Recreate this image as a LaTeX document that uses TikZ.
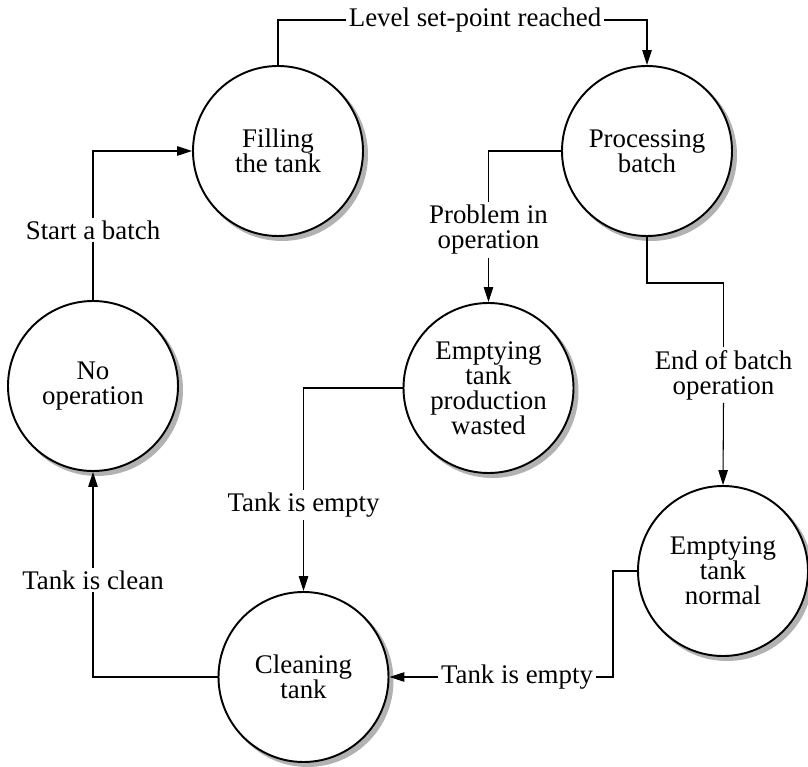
\documentclass[tikz,border=0pt]{standalone}
\usepackage{fontspec}
\setmainfont{Liberation Serif}
\usetikzlibrary{arrows.meta,backgrounds}

\begin{document}
\begin{tikzpicture}[
    state/.style={circle, draw, line width=1.1pt, fill=white, minimum size=3.4cm,
      inner sep=0pt, align=center, font=\fontsize{15.3}{14.2}\selectfont},
    shadowc/.style={fill=black!30},
    lbl/.style={inner sep=1.5pt, align=center, font=\fontsize{15.3}{14.2}\selectfont},
    conn/.style={line width=0.6pt},
    arr/.style={conn, -{Triangle[length=0.3cm, width=0.19cm]}}]
  \useasboundingbox (0cm,0cm) rectangle (16.16cm,15.32cm);

  % states
  \node[state] (fill)   at (5.56cm,12.3cm)  {Filling\\the tank};
  \node[state] (proc)   at (12.94cm,12.3cm) {Processing\\batch};
  \node[state] (noop)   at (1.86cm,7.6cm)   {No\\operation};
  \node[state] (waste)  at (9.77cm,7.56cm)  {Emptying\\tank\\production\\wasted};
  \node[state] (normal) at (14.46cm,3.9cm)  {Emptying\\tank\\normal};
  \node[state] (clean)  at (6.07cm,1.78cm)  {Cleaning\\tank};

  % shadows
  \begin{scope}[on background layer]
    \foreach \s in {fill,proc,noop,waste,normal,clean}
      \fill[shadowc] ([xshift=0.08cm,yshift=-0.08cm]\s.center) circle (1.72cm);
  \end{scope}

  % labels
  \node[lbl] (level)  at (9.5cm,14.92cm)  {Level set-point reached};
  \node[lbl] (start)  at (1.86cm,10.72cm) {Start a batch};
  \node[lbl] (prob)   at (9.77cm,10.72cm) {Problem in\\operation};
  \node[lbl] (endb)   at (14.47cm,7.82cm) {End of batch\\operation};
  \node[lbl] (empty1) at (6.07cm,5.22cm)  {Tank is empty};
  \node[lbl] (empty2) at (10.34cm,1.78cm) {Tank is empty};
  \node[lbl] (cleanl) at (1.86cm,3.72cm)  {Tank is clean};

  \coordinate (bend) at (12.94cm,9.66cm);
  \coordinate (step2) at (12.26cm,3.9cm);

  % transitions
  \draw[conn] (fill.north) |- (level.west);
  \draw[arr] (level.east) -| (proc.north);
  \draw[conn] (noop.north) -- (start.south);
  \draw[arr] (start.north) |- (fill.west);
  \draw[conn] (proc.west) -| (prob.north);
  \draw[arr] (prob.south) -- (waste.north);
  \draw[conn] (proc.south) -- (bend) -| (endb.north);
  \draw[arr] (endb.south) -- (normal.north);
  \draw[conn] (waste.west) -| (empty1.north);
  \draw[arr] (empty1.south) -- (clean.north);
  \draw[conn] (normal.west) -- (step2) |- (empty2.east);
  \draw[arr] (empty2.west) -- (clean.east);
  \draw[conn] (clean.west) -| (cleanl.south);
  \draw[arr] (cleanl.north) -- (noop.south);
\end{tikzpicture}
\end{document}
